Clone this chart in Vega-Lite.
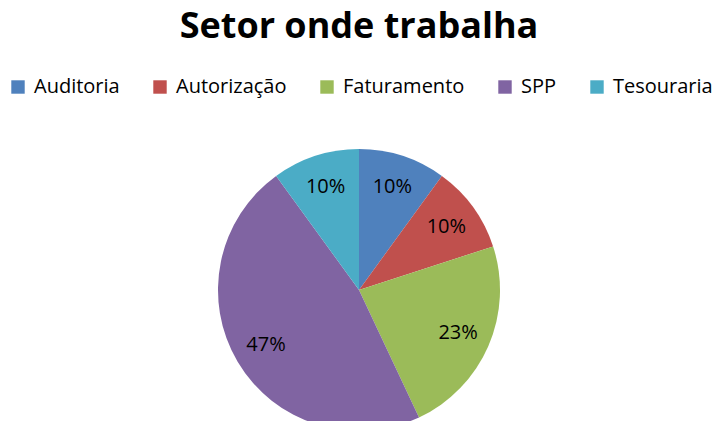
{
  "$schema": "https://vega.github.io/schema/vega-lite/v6.json",
  "width": 718,
  "height": 280,
  "autosize": {"type": "none"},
  "padding": {"left": 0, "top": 150, "right": 0, "bottom": 0},
  "background": "white",
  "title": {
    "text": "Setor onde trabalha",
    "font": "Open Sans",
    "fontSize": 36,
    "fontWeight": "bold",
    "color": "#000000",
    "anchor": "middle",
    "frame": "group",
    "offset": 31
  },
  "config": {"view": {"stroke": null}},
  "data": {
    "values": [
      {"setor": "Auditoria", "valor": 0.10},
      {"setor": "Autorização", "valor": 0.10},
      {"setor": "Faturamento", "valor": 0.23},
      {"setor": "SPP", "valor": 0.47},
      {"setor": "Tesouraria", "valor": 0.10}
    ]
  },
  "encoding": {
    "theta": {"field": "valor", "type": "quantitative", "stack": true},
    "order": {"field": "setor", "type": "nominal", "sort": "ascending"}
  },
  "layer": [
    {
      "mark": {"type": "arc", "radius": 141},
      "encoding": {
        "color": {
          "field": "setor",
          "type": "nominal",
          "scale": {
            "domain": ["Auditoria", "Autorização", "Faturamento", "SPP", "Tesouraria"],
            "range": ["#4F81BD", "#C0504D", "#9BBB59", "#8064A2", "#4BACC6"]
          },
          "legend": {
            "title": null,
            "orient": "none",
            "direction": "horizontal",
            "legendX": 8,
            "legendY": -73,
            "symbolType": "square",
            "symbolSize": 180,
            "symbolStrokeWidth": 0,
            "labelFont": "Open Sans",
            "labelFontSize": 20,
            "labelColor": "#000000",
            "labelOffset": 6,
            "columnPadding": 30,
            "labelLimit": 200
          }
        }
      }
    },
    {
      "mark": {"type": "text", "radius": 108, "font": "Open Sans", "fontSize": 20, "color": "#000000"},
      "encoding": {
        "text": {"field": "valor", "type": "quantitative", "format": ".0%"},
        "detail": {"field": "setor", "type": "nominal"}
      }
    }
  ]
}
